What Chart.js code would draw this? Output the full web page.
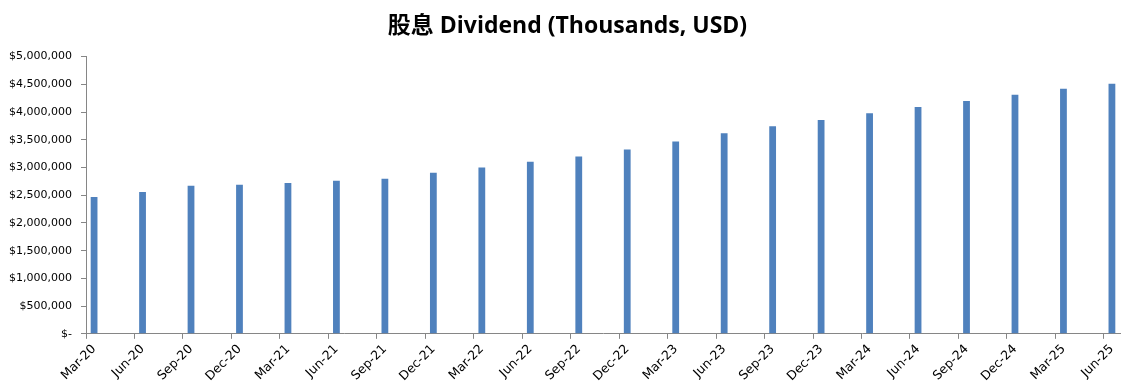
<!DOCTYPE html>
<html>
<head>
<meta charset="utf-8">
<script src="https://cdn.jsdelivr.net/npm/chart.js@4.4.1/dist/chart.umd.min.js"></script>
<style>
  html, body { margin: 0; padding: 0; background: #fff; }
  #wrap { width: 1135px; height: 387px; position: relative; }
</style>
</head>
<body>
<div id="wrap"><canvas id="dividendChart"></canvas></div>
<script>
// quarter labels and dividend values (thousands USD)
const quarters = ["Mar-20", "Jun-20", "Sep-20", "Dec-20", "Mar-21", "Jun-21", "Sep-21", "Dec-21",
  "Mar-22", "Jun-22", "Sep-22", "Dec-22", "Mar-23", "Jun-23", "Sep-23", "Dec-23",
  "Mar-24", "Jun-24", "Sep-24", "Dec-24", "Mar-25", "Jun-25"];
const dividends = [2470000, 2560000, 2670000, 2690000, 2720000, 2760000, 2795000, 2905000,
  3000000, 3105000, 3197000, 3325000, 3470000, 3617000, 3745000, 3855000,
  3980000, 4090000, 4200000, 4310000, 4420000, 4510000];
const yTicks = { min: 0, max: 5000000, step: 500000 };

// the axis is a monthly date axis (like Excel), so each quarter takes 3 month slots
const monthLabels = [];
const monthValues = [];
quarters.forEach((q, i) => {
  monthLabels.push(q, "", "");
  monthValues.push(dividends[i], null, null);
});
// last quarter only has its own month on the axis
monthLabels.splice(quarters.length * 3 - 2);
monthValues.splice(quarters.length * 3 - 2);

const axisGray = "#868686";

const ctx = document.getElementById("dividendChart").getContext("2d");
new Chart(ctx, {
  type: "bar",
  data: {
    labels: monthLabels,
    datasets: [{
      label: "Dividend",
      data: monthValues,
      backgroundColor: "#4F81BD",
      barPercentage: 0.42,
      categoryPercentage: 1.0
    }]
  },
  options: {
    responsive: true,
    maintainAspectRatio: false,
    animation: false,
    layout: { padding: { left: 0, right: 0, top: 0, bottom: 0 } },
    plugins: {
      legend: { display: false },
      tooltip: { enabled: false },
      title: {
        display: true,
        text: "股息 Dividend (Thousands, USD)",
        color: "#000",
        font: { family: "'Open Sans', 'Noto Sans CJK SC', sans-serif", size: 23, weight: "bold" },
        padding: { top: 13, bottom: 16 }
      }
    },
    scales: {
      x: {
        offset: true,
        // keep some room on the right of the plot, title stays centred on the page
        afterFit: scale => { scale.paddingRight = 15; },
        border: { display: true, color: axisGray },
        grid: {
          offset: true,
          drawOnChartArea: false,
          drawTicks: true,
          tickLength: 5,
          color: c => (c.index % 3 === 0 ? axisGray : "rgba(0,0,0,0)")
        },
        ticks: {
          autoSkip: false,
          minRotation: 45,
          maxRotation: 45,
          padding: 3,
          color: "#000",
          font: { family: "'DejaVu Sans', sans-serif", size: 12.5 }
        }
      },
      y: {
        min: yTicks.min,
        max: yTicks.max,
        afterFit: scale => { scale.width = 86; },
        border: { display: true, color: axisGray },
        grid: { drawOnChartArea: false, drawTicks: true, tickLength: 5, color: axisGray },
        ticks: {
          stepSize: yTicks.step,
          padding: 9,
          color: "#000",
          font: { family: "'DejaVu Sans', sans-serif", size: 11 },
          callback: v => (v === 0 ? "$-" : "$" + v.toLocaleString("en-US"))
        }
      }
    }
  }
});
</script>
</body>
</html>
